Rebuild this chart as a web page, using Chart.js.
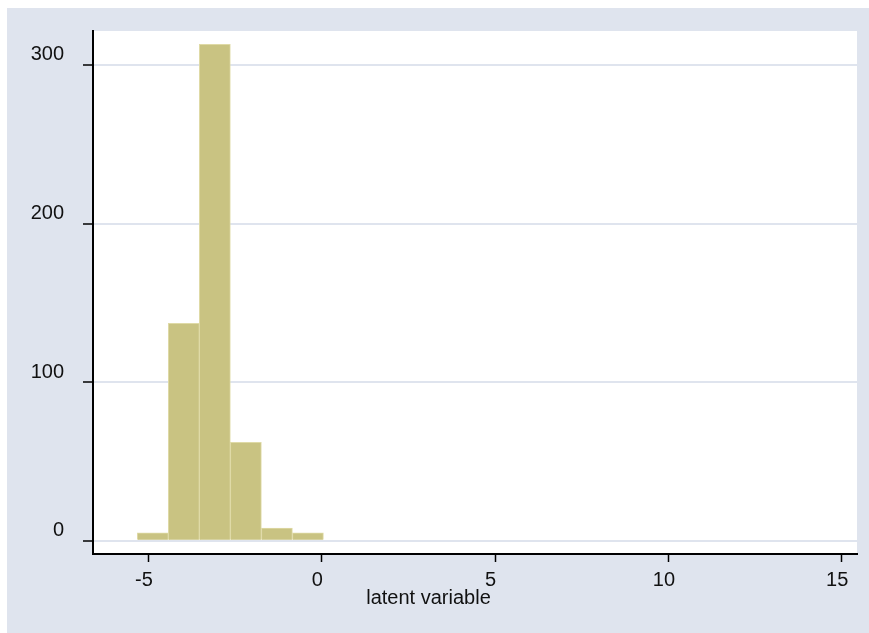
<!DOCTYPE html>
<html>
<head>
<meta charset="utf-8">
<script src="https://cdn.jsdelivr.net/npm/chart.js@4.4.1/dist/chart.umd.min.js"></script>
<style>
  body { margin: 0; background: #ffffff; }
  #wrap { width: 869px; height: 633px; }
</style>
</head>
<body>
<div id="wrap"><canvas id="hist" width="869" height="633"></canvas></div>
<script>
// histogram bins (centres) and frequencies
const binCenters = [-4.875, -3.98, -3.085, -2.19, -1.295, -0.40];
const counts = [5, 137, 313, 62, 8, 5];

// axis ticks
const xTicks = [-5, 0, 5, 10, 15];
const yTicks = [0, 100, 200, 300];
const xTitle = 'latent variable';

const FONT = '"Liberation Sans", Arial, sans-serif';

// stata-ish background: bluish graph region, white plot region
const backdrop = {
  id: 'backdrop',
  beforeDraw(chart) {
    const { ctx, chartArea: a } = chart;
    ctx.save();
    ctx.fillStyle = '#ffffff';
    ctx.fillRect(0, 0, chart.width, chart.height);
    ctx.fillStyle = '#dfe4ee';
    ctx.fillRect(7, 8, chart.width - 7, chart.height - 8);
    ctx.fillStyle = '#ffffff';
    ctx.fillRect(a.left, a.top, a.right - a.left, a.bottom - a.top);
    ctx.restore();
  }
};

const ctx = document.getElementById('hist').getContext('2d');
new Chart(ctx, {
  type: 'bar',
  data: {
    datasets: [{
      data: binCenters.map((x, i) => ({ x: x, y: counts[i] })),
      backgroundColor: '#c9c382',
      borderColor: '#dfdaa6',
      borderWidth: 1,
      barPercentage: 1,
      categoryPercentage: 1
    }]
  },
  options: {
    responsive: false,
    animation: false,
    layout: { padding: { left: 0, top: 31, right: 12, bottom: 0 } },
    plugins: {
      legend: { display: false },
      tooltip: { enabled: false },
      title: {
        display: true,
        position: 'bottom',
        text: xTitle,
        color: '#111111',
        font: { family: FONT, size: 20, weight: 'normal' },
        padding: { top: 0, bottom: 23 }
      }
    },
    scales: {
      x: {
        type: 'linear',
        offset: false,
        min: -6.6,
        max: 15.44,
        afterBuildTicks: s => { s.ticks = xTicks.map(v => ({ value: v })); },
        afterFit: s => { s.height = 32; },
        grid: {
          display: true,
          offset: false,
          drawOnChartArea: false,
          tickLength: 8,
          tickColor: '#000000',
          tickWidth: 1.5
        },
        border: { color: '#000000', width: 2 },
        ticks: {
          padding: 6,
          labelOffset: -4.5,
          maxRotation: 0,
          color: '#111111',
          font: { family: FONT, size: 20 },
          callback: v => String(v)
        }
      },
      y: {
        min: -8.4,
        max: 321.4,
        afterBuildTicks: s => { s.ticks = yTicks.map(v => ({ value: v })); },
        afterFit: s => { s.width = 93; },
        grid: {
          color: '#dfe4ee',
          lineWidth: 2,
          tickLength: 10,
          tickColor: '#000000',
          tickWidth: 1.5
        },
        border: { color: '#000000', width: 2 },
        ticks: {
          padding: 19,
          labelOffset: -10,
          color: '#111111',
          font: { family: FONT, size: 20 },
          callback: v => String(v)
        }
      }
    }
  },
  plugins: [backdrop]
});
</script>
</body>
</html>
